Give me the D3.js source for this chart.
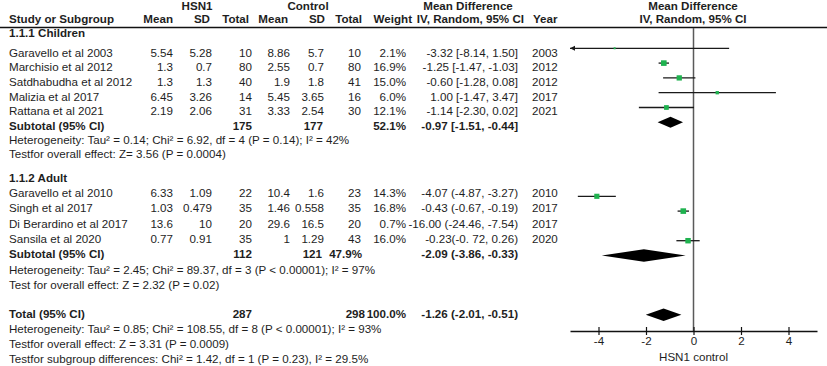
<!DOCTYPE html>
<html><head><meta charset="utf-8">
<script src="https://cdn.jsdelivr.net/npm/d3@7"></script>
<style>
html,body{margin:0;padding:0;background:#fff;}
svg text{font-family:"Liberation Sans",Arial,sans-serif;font-size:11.6px;fill:#1e1e1e;}
.b{font-weight:bold;}
</style></head>
<body><svg id="c" width="827" height="366"></svg>
<script>
// ---------- data ----------
const studyNames = ["Garavello et al 2003","Marchisio et al 2012","Satdhabudha et al 2012","Malizia et al 2017","Rattana et al 2021",
                    "Garavello et al 2010","Singh et al 2017","Di Berardino et al 2017","Sansila et al 2020"];
const groups     = ["Children","Children","Children","Children","Children","Adult","Adult","Adult","Adult"];
const hsnMean    = [5.54, 1.3, 1.3, 6.45, 2.19, 6.33, 1.03, 13.6, 0.77];
const hsnSD      = [5.28, 0.7, 1.3, 3.26, 2.06, 1.09, 0.479, 10, 0.91];
const hsnTotal   = [10, 80, 40, 14, 31, 22, 35, 20, 35];
const ctlMean    = [8.86, 2.55, 1.9, 5.45, 3.33, 10.4, 1.46, 29.6, 1];
const ctlSD      = [5.7, 0.7, 1.8, 3.65, 2.54, 1.6, 0.558, 16.5, 1.29];
const ctlTotal   = [10, 80, 41, 16, 30, 23, 35, 20, 43];
const weights    = ["2.1%","16.9%","15.0%","6.0%","12.1%","14.3%","16.8%","0.7%","16.0%"];
const weightVal  = [2.1, 16.9, 15.0, 6.0, 12.1, 14.3, 16.8, 0.7, 16.0];
const md         = [-3.32, -1.25, -0.60, 1.00, -1.14, -4.07, -0.43, -16.00, -0.23];
const ciLow      = [-8.14, -1.47, -1.28, -1.47, -2.30, -4.87, -0.67, -24.46, -0.72];
const ciHigh     = [1.50, -1.03, 0.08, 3.47, 0.02, -3.27, -0.19, -7.54, 0.26];
const ciLabels   = ["-3.32 [-8.14, 1.50]","-1.25 [-1.47, -1.03]","-0.60 [-1.28, 0.08]","1.00 [-1.47, 3.47]","-1.14 [-2.30, 0.02]",
                    "-4.07 (-4.87, -3.27)","-0.43 (-0.67, -0.19)","-16.00 (-24.46, -7.54)","-0.23(-0. 72, 0.26)"];
const years      = ["2003","2012","2012","2017","2021","2010","2017","2017","2020"];

const pooledNames = ["Children subtotal","Adult subtotal","Total"];
const pooledMD    = [-0.97, -2.09, -1.26];
const pooledLow   = [-1.51, -3.86, -2.01];
const pooledHigh  = [-0.44, -0.33, -0.51];
const pooledHsnN  = ["175","112","287"];
const pooledCtlN  = ["177","121","298"];
const pooledW     = ["52.1%","47.9%","100.0%"];
const pooledLabel = ["-0.97 [-1.51, -0.44]","-2.09 (-3.86, -0.33)","-1.26 (-2.01, -0.51)"];

const statsChildren = ["Heterogeneity: Tau\u00B2 = 0.14; Chi\u00B2 = 6.92, df = 4 (P = 0.14); I\u00B2 = 42%",
                       "Testfor overall effect: Z= 3.56 (P = 0.0004)"];
const statsAdult    = ["Heterogeneity: Tau\u00B2 = 2.45; Chi\u00B2 = 89.37, df = 3 (P < 0.00001); I\u00B2 = 97%",
                       "Test for overall effect: Z = 2.32 (P = 0.02)"];
const statsTotal    = ["Heterogeneity: Tau\u00B2 = 0.85; Chi\u00B2 = 108.55, df = 8 (P < 0.00001); I\u00B2 = 93%",
                       "Testfor overall effect: Z = 3.31 (P = 0.0009)",
                       "Testfor subgroup differences: Chi\u00B2 = 1.42, df = 1 (P = 0.23), I\u00B2 = 29.5%"];
const xTicks = [-4, -2, 0, 2, 4];
const xDomain = [-5.2, 5.2];
const axisLabel = "HSN1 control";

// ---------- layout ----------
const L = {
  left: 9,
  colHsnMean: 173, colHsnSD: 212, colHsnTot: 252, colCtlMean: 290, colCtlSD: 324, colCtlTot: 361,
  colW: 406, colMD: 518, colYear: 532,
  textRowsChildren: [53.3, 67.3, 82.3, 96.7, 111],
  textRowsAdult: [192.7, 208.3, 224, 239],
  yHead1: 5.7, yHead2: 19, yChildren: 33.3, ySubC: 126, yStatC: [140, 154.3],
  yAdult: 178.3, ySubA: 254.3, yStatA: [270, 285], yTotal: 314.3, yStatT: [329.3, 344, 359],
  markRowStudies: [0,1,2,3,4,10,11,12,13], markRowPooled: [5,14,18],
  axisY: 331, plotTop: 28
};

const svg = d3.select("#c");
const x = d3.scaleLinear().domain(xDomain).range([570, 817]);
const yMark = d3.scaleLinear().domain([0, 1]).range([48.3, 63.1]);
const sizeScale = d3.scaleSqrt().domain([0, 16.9]).range([0, 5.6]);

function txt(s, xx, yc, anchor, bold){
  return svg.append("text").attr("x", xx).attr("y", yc + 4.1)
    .attr("text-anchor", anchor || "start").attr("class", bold ? "b" : null).text(s);
}

// header
txt("HSN1", 197, L.yHead1, "middle", true);
txt("Control", 308, L.yHead1, "middle", true);
txt("Mean Difference", 468, L.yHead1, "middle", true);
txt("Mean Difference", 693, L.yHead1, "middle", true);
txt("Study or Subgroup", L.left, L.yHead2, "start", true);
txt("Mean", 173, L.yHead2, "end", true);
txt("SD", 210, L.yHead2, "end", true);
txt("Total", 249, L.yHead2, "end", true);
txt("Mean", 288, L.yHead2, "end", true);
txt("SD", 325, L.yHead2, "end", true);
txt("Total", 362, L.yHead2, "end", true);
txt("Weight", 412, L.yHead2, "end", true);
txt("IV, Random, 95% CI", 524, L.yHead2, "end", true);
txt("Year", 533, L.yHead2, "start", true);
txt("IV, Random, 95% CI", 693, L.yHead2, "middle", true);

svg.append("line").attr("x1", 0).attr("x2", 827).attr("y1", 27.5).attr("y2", 27.5)
  .attr("stroke", "#111").attr("stroke-width", 1.3);

// study rows
const textRows = L.textRowsChildren.concat(L.textRowsAdult);
studyNames.forEach((n, i) => {
  const yc = textRows[i];
  txt(n, L.left, yc);
  txt(String(hsnMean[i]), L.colHsnMean, yc, "end");
  txt(String(hsnSD[i]), L.colHsnSD, yc, "end");
  txt(String(hsnTotal[i]), L.colHsnTot, yc, "end");
  txt(String(ctlMean[i]), L.colCtlMean, yc, "end");
  txt(String(ctlSD[i]), L.colCtlSD, yc, "end");
  txt(String(ctlTotal[i]), L.colCtlTot, yc, "end");
  txt(weights[i], L.colW, yc, "end");
  txt(ciLabels[i], L.colMD, yc, "end");
  txt(years[i], L.colYear, yc, "start");
});

// group labels
txt("1.1.1 Children", L.left, L.yChildren, "start", true);
txt("1.1.2 Adult", L.left, L.yAdult, "start", true);

// subtotals
txt("Subtotal (95% CI)", L.left, L.ySubC, "start", true);
txt(pooledHsnN[0], 252, L.ySubC, "end", true);
txt(pooledCtlN[0], 323, L.ySubC, "end", true);
txt(pooledW[0], 406, L.ySubC, "end", true);
txt(pooledLabel[0], L.colMD, L.ySubC, "end", true);
statsChildren.forEach((s, k) => txt(s, L.left, L.yStatC[k]));

txt("Subtotal (95% CI)", L.left, L.ySubA, "start", true);
txt(pooledHsnN[1], 252, L.ySubA, "end", true);
txt(pooledCtlN[1], 322, L.ySubA, "end", true);
txt(pooledW[1], 362, L.ySubA, "end", true);
txt(pooledLabel[1], L.colMD, L.ySubA, "end", true);
statsAdult.forEach((s, k) => txt(s, L.left, L.yStatA[k]));

txt("Total (95% CI)", L.left, L.yTotal, "start", true);
txt(pooledHsnN[2], 252, L.yTotal, "end", true);
txt(pooledCtlN[2], 365, L.yTotal, "end", true);
txt(pooledW[2], 406, L.yTotal, "end", true);
txt(pooledLabel[2], L.colMD, L.yTotal, "end", true);
statsTotal.forEach((s, k) => txt(s, L.left, L.yStatT[k]));

// ---------- forest plot ----------
// zero line
svg.append("line").attr("x1", x(0)).attr("x2", x(0)).attr("y1", L.plotTop).attr("y2", L.axisY)
  .attr("stroke", "#5a5a5a").attr("stroke-width", 1.5);

const [xmin, xmax] = xDomain;
const g = svg.append("g");
studyNames.forEach((n, i) => {
  if (ciHigh[i] < xmin || ciLow[i] > xmax) return; // fully off-scale
  const yy = yMark(L.markRowStudies[i]);
  const lo = Math.max(ciLow[i], xmin), hi = Math.min(ciHigh[i], xmax);
  g.append("line").attr("x1", x(lo)).attr("x2", x(hi)).attr("y1", yy).attr("y2", yy)
    .attr("stroke", "#1a1a1a").attr("stroke-width", 1.3);
  if (ciLow[i] < xmin) {
    const ax = x(xmin);
    g.append("path").attr("d", `M${ax},${yy} L${ax+5},${yy-2.5} L${ax+5},${yy+2.5} Z`).attr("fill", "#1a1a1a");
  }
  if (ciHigh[i] > xmax) {
    const ax = x(xmax);
    g.append("path").attr("d", `M${ax},${yy} L${ax-5},${yy-2.5} L${ax-5},${yy+2.5} Z`).attr("fill", "#1a1a1a");
  }
  if (md[i] >= xmin && md[i] <= xmax) {
    const s = Math.max(sizeScale(weightVal[i]), 1.8);
    g.append("rect").attr("x", x(md[i]) - s/2).attr("y", yy - s/2).attr("width", s).attr("height", s)
      .attr("fill", "#1fb24f");
  }
});

pooledNames.forEach((n, i) => {
  const yy = yMark(L.markRowPooled[i]);
  const h = i === 0 ? 5.5 : 6.3;
  g.append("path")
    .attr("d", `M${x(pooledLow[i])},${yy} L${x(pooledMD[i])},${yy-h} L${x(pooledHigh[i])},${yy} L${x(pooledMD[i])},${yy+h} Z`)
    .attr("fill", "#000");
});

// axis
const axis = d3.axisBottom(x).tickValues(xTicks).tickSizeOuter(0).tickSizeInner(4).tickPadding(3)
  .tickFormat(d3.format("d"));
const ag = svg.append("g").attr("transform", `translate(0,${L.axisY})`).call(axis);
ag.select(".domain").attr("stroke", "#111").attr("stroke-width", 1.5);
ag.selectAll(".tick line").attr("y1", -4).attr("y2", 4).attr("stroke", "#111").attr("stroke-width", 1.2);
ag.selectAll(".tick text").attr("y", 6).attr("dy", "0.71em")
  .style("font-family", "Liberation Sans, Arial, sans-serif").style("font-size", "11.6px").attr("fill", "#1e1e1e");
ag.selectAll(".tick text").text(d => d < 0 ? "-" + Math.abs(d) : String(d));

txt(axisLabel, x(0), 357.3, "middle");
</script>
</body></html>
